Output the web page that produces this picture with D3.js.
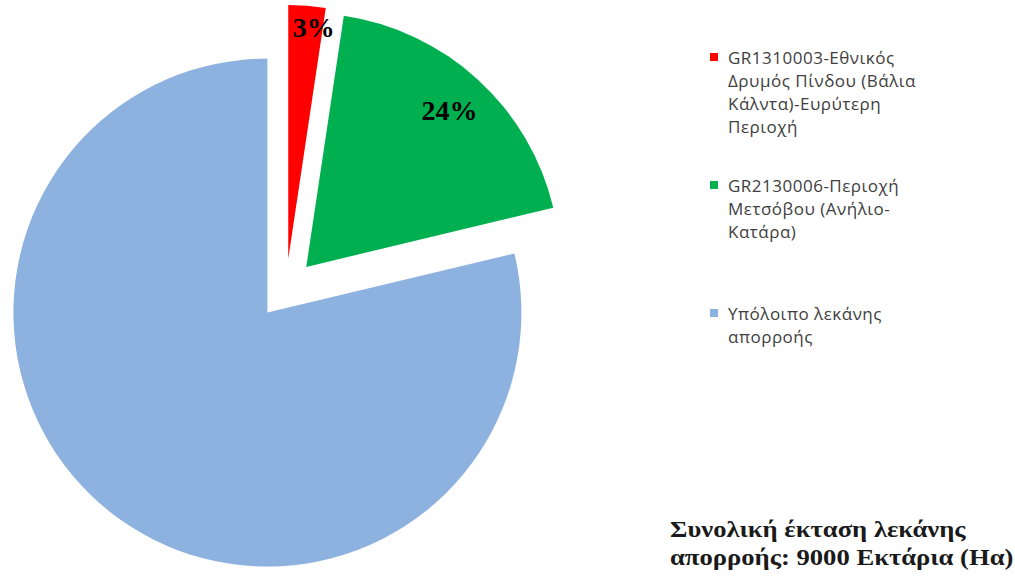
<!DOCTYPE html>
<html>
<head>
<meta charset="utf-8">
<script src="https://cdn.jsdelivr.net/npm/d3@7"></script>
<style>
  body { margin: 0; background: #fff; }
  svg { display: block; }
</style>
</head>
<body>
<div id="chart"></div>
<script>
// data
const categories = [
  ['GR1310003-Εθνικός', 'Δρυμός Πίνδου (Βάλια', 'Κάλντα)-Ευρύτερη', 'Περιοχή'],
  ['GR2130006-Περιοχή', 'Μετσόβου (Ανήλιο-', 'Κατάρα)'],
  ['Υπόλοιπο λεκάνης', 'απορροής']
];
const values = [3, 24, 100];
const valueLabels = ['3%', '24%', ''];
const colors = ['#ff0000', '#00b050', '#8eb2e0'];
const note = ['Συνολική έκταση λεκάνης', 'απορροής: 9000 Εκτάρια (Ηα)'];

const width = 1015, height = 576;
const cx = 286, cy = 289, radius = 254, explode = 30;

const svg = d3.select('#chart').append('svg')
  .attr('width', width)
  .attr('height', height);

const pie = d3.pie().sort(null).value(d => d)(values);
const arc = d3.arc().innerRadius(0).outerRadius(radius);

const offset = d => {
  const a = (d.startAngle + d.endAngle) / 2;
  return [Math.sin(a) * explode, -Math.cos(a) * explode];
};

const slices = svg.append('g')
  .attr('transform', 'translate(' + cx + ',' + cy + ')')
  .selectAll('g')
  .data(pie)
  .enter().append('g')
  .attr('transform', d => 'translate(' + offset(d) + ')');

slices.append('path')
  .attr('d', arc)
  .attr('fill', (d, i) => colors[i]);

// small slices get their label pushed further out
const small = d => d.endAngle - d.startAngle < 0.3;
const labelR = d => (small(d) ? 0.92 : 0.835) * radius;
const labelA = d => (d.startAngle + d.endAngle) / 2 + (small(d) ? 0.035 : 0);

slices.append('text')
  .attr('x', d => Math.sin(labelA(d)) * labelR(d))
  .attr('y', d => -Math.cos(labelA(d)) * labelR(d))
  .attr('dy', '0.35em')
  .attr('text-anchor', 'middle')
  .style('font-family', '"Liberation Serif", "Times New Roman", serif')
  .style('font-weight', 'bold')
  .style('font-size', '28px')
  .attr('fill', '#000')
  .text((d, i) => valueLabels[i]);

// legend
const legend = svg.append('g')
  .selectAll('g')
  .data(categories)
  .enter().append('g')
  .attr('transform', (d, i) => 'translate(710,' + (64 + i * 128) + ')');

legend.append('rect')
  .attr('x', 0)
  .attr('y', -11)
  .attr('width', 8)
  .attr('height', 8)
  .attr('fill', (d, i) => colors[i]);

legend.append('text')
  .style('font-family', '"Open Sans", sans-serif')
  .style('font-size', '17px')
  .style('letter-spacing', '0.5px')
  .attr('fill', '#404040')
  .selectAll('tspan')
  .data(d => d)
  .enter().append('tspan')
  .attr('x', 18)
  .attr('y', (d, j) => j * 23)
  .text(d => d);

// total area note (source text is a bit wider than Liberation Serif)
svg.append('text')
  .attr('transform', 'translate(670,537) scale(1.11,1)')
  .style('font-family', '"Liberation Serif", "Times New Roman", serif')
  .style('font-weight', 'bold')
  .style('font-size', '24px')
  .attr('fill', '#1a1a1a')
  .selectAll('tspan')
  .data(note)
  .enter().append('tspan')
  .attr('x', 0)
  .attr('y', (d, j) => j * 28)
  .text(d => d);
</script>
</body>
</html>
